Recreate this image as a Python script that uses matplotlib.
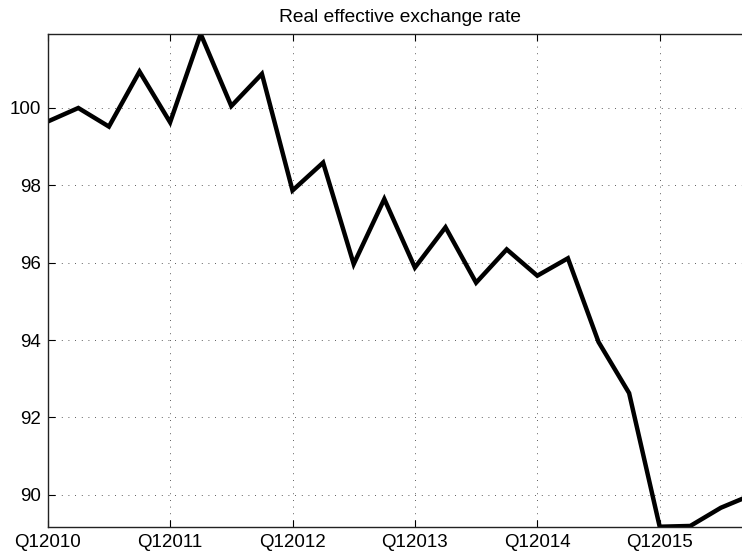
import matplotlib
matplotlib.use("Agg")
import matplotlib.pyplot as plt
import numpy as np

plt.rcParams['font.family'] = ['Liberation Sans', 'DejaVu Sans']
plt.rcParams['lines.scale_dashes'] = False

# Quarterly real effective exchange rate index, Q1 2010 onwards
reer = [99.64, 99.99, 99.51, 100.93, 99.62, 101.90, 100.04, 100.87,
        97.86, 98.58, 95.96, 97.64, 95.87, 96.91, 95.48, 96.34,
        95.66, 96.11, 93.95, 92.63, 89.18, 89.20, 89.67, 90.00]
tick_quarters = [0, 4, 8, 12, 16, 20]
tick_labels = ['Q12010', 'Q12011', 'Q12012', 'Q12013', 'Q12014', 'Q12015']
y_ticks = [90, 92, 94, 96, 98, 100]

fig = plt.figure(figsize=(7.42, 5.52), dpi=100)
ax = fig.add_axes([0.0643, 0.0458, 0.9485, 0.8926])

x = np.arange(len(reer))
ax.plot(x, reer, color='black', lw=3.2, solid_joinstyle='miter', clip_on=True)

ax.set_xlim(0, len(reer) - 1)
ax.set_ylim(min(reer), max(reer))
ax.set_xticks(tick_quarters)
ax.set_xticklabels(tick_labels)
ax.set_yticks(y_ticks)

ax.grid(True, color='#444444', linestyle=(0, (0.6, 4.2)), linewidth=0.7)
ax.tick_params(direction='in', length=5, width=0.8, top=True, right=True,
               labelsize=13.5, colors='black')
ax.tick_params(axis='y', pad=5)
ax.tick_params(axis='x', pad=5)
for s in ax.spines.values():
    s.set_linewidth(1.0)
    s.set_color('#222222')

ax.set_title('Real effective exchange rate', fontsize=13.8, pad=9)

fig.savefig('out.png', dpi=100)
